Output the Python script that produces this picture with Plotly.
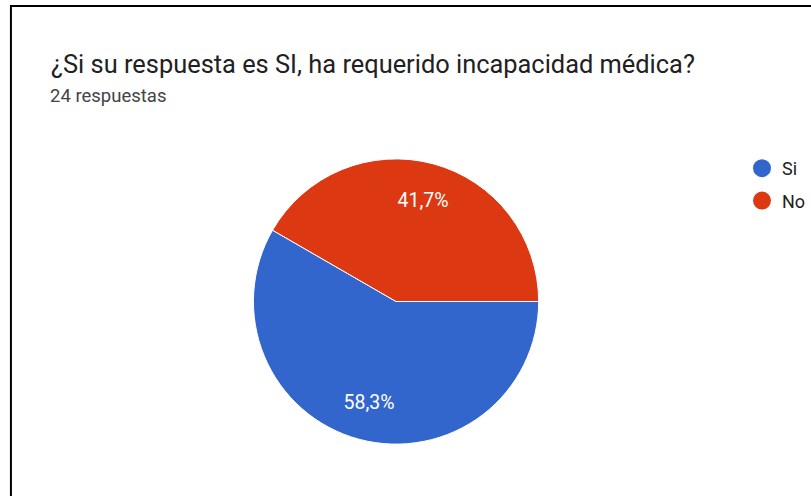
import plotly.graph_objects as go

# Data
labels = ["Si", "No"]
values = [14, 10]
colors = ["#3366CC", "#DC3912"]
title_text = "¿Si su respuesta es SI, ha requerido incapacidad médica?"
subtitle_text = "24 respuestas"

W, H = 811, 496

def px_x(x):
    return x / W

def px_y(y):
    return 1 - y / H

cx, cy, R = 398.5, 301.5, 143.5
pie_domain = dict(x=[px_x(cx - R), px_x(cx + R)], y=[px_y(cy + R), px_y(cy - R)])

fig = go.Figure()

# Filled pie with white slice borders
fig.add_trace(go.Pie(
    labels=labels,
    values=values,
    sort=False,
    direction="clockwise",
    rotation=90,
    marker=dict(colors=colors, line=dict(color="white", width=1)),
    textinfo="none",
    showlegend=False,
    hoverinfo="label+percent",
    domain=pie_domain,
))

# Transparent ring carrying the percentage labels (places them further out)
fig.add_trace(go.Pie(
    labels=labels,
    values=values,
    sort=False,
    direction="clockwise",
    rotation=90,
    hole=0.46,
    marker=dict(colors=["rgba(0,0,0,0)"] * len(labels), line=dict(width=0)),
    texttemplate="%{percent:.1%}",
    textposition="inside",
    insidetextorientation="horizontal",
    textfont=dict(color="white", size=19.5, family="Roboto"),
    showlegend=False,
    hoverinfo="skip",
    domain=pie_domain,
))

# Legend entries with circular markers
for i, (lab, col) in enumerate(zip(labels, colors)):
    fig.add_trace(go.Scatter(
        x=[None], y=[None], mode="markers", name=lab,
        legendgroup="g%d" % i,
        marker=dict(symbol="circle", size=16, color=col,
                    line=dict(color=col, width=2)),
        showlegend=True, hoverinfo="skip",
    ))

fig.update_layout(
    width=W, height=H,
    margin=dict(l=0, r=0, t=0, b=0),
    paper_bgcolor="white",
    plot_bgcolor="white",
    separators=",.",
    font=dict(family="Roboto", color="#212121"),
    xaxis=dict(visible=False),
    yaxis=dict(visible=False),
    legend=dict(
        x=px_x(747), y=px_y(150), xanchor="left", yanchor="top",
        font=dict(size=18, family="Roboto", color="#212121"),
        itemsizing="trace",
        tracegroupgap=6,
        bgcolor="rgba(0,0,0,0)",
    ),
    annotations=[
        dict(text=title_text, x=px_x(49), y=px_y(64), xref="paper", yref="paper",
             xanchor="left", yanchor="middle", showarrow=False,
             font=dict(size=25.4, family="Roboto", color="#212121")),
        dict(text=subtitle_text, x=px_x(48), y=px_y(96), xref="paper", yref="paper",
             xanchor="left", yanchor="middle", showarrow=False,
             font=dict(size=18.5, family="Roboto", color="#444444")),
    ],
    shapes=[
        dict(type="rect", xref="paper", yref="paper",
             x0=px_x(11), x1=px_x(W + 20), y0=px_y(H + 20), y1=px_y(6),
             line=dict(color="black", width=2), fillcolor="rgba(0,0,0,0)"),
    ],
)

fig.write_html("out.html", config={"displayModeBar": False},
               post_script="document.body.style.margin='0';")
